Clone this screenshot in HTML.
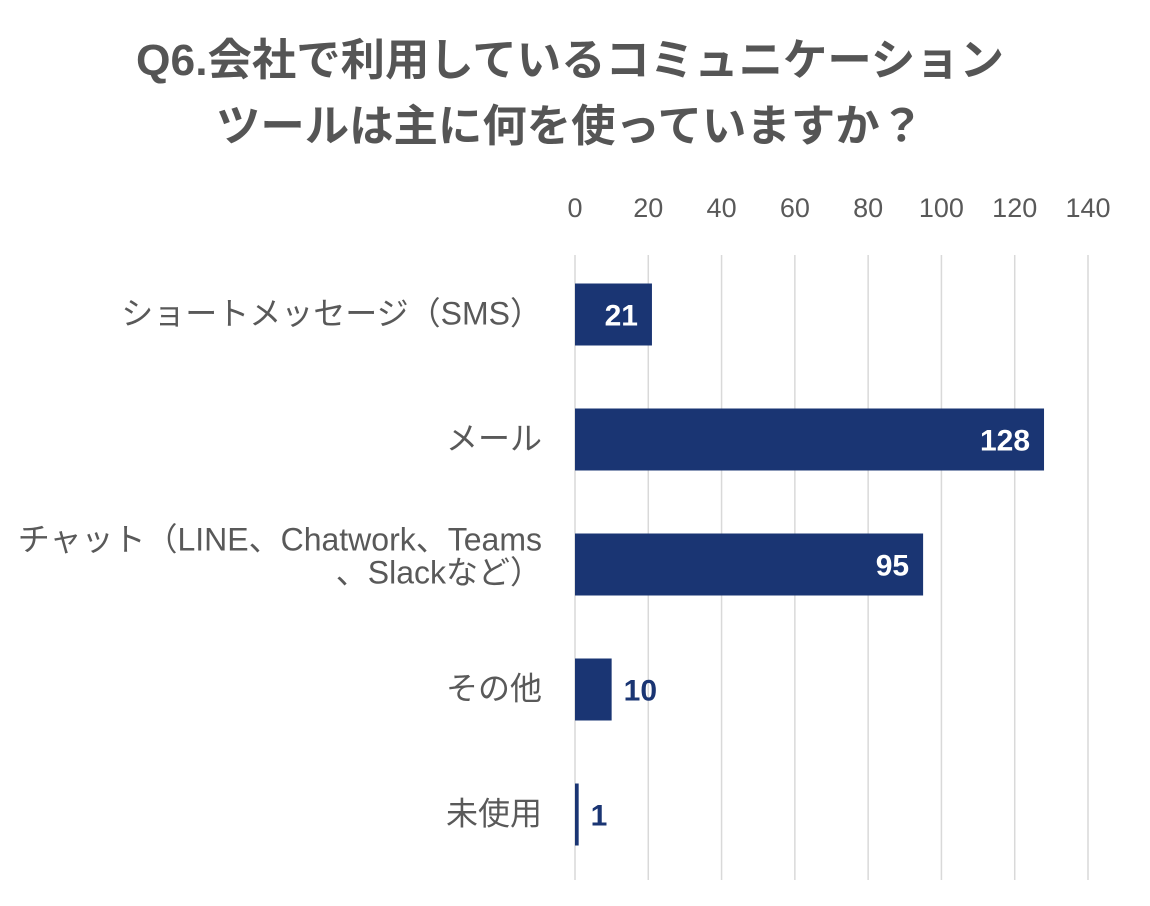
<!DOCTYPE html>
<html><head><meta charset="utf-8">
<style>
html,body{margin:0;padding:0;background:#fff;}
svg{display:block;font-family:"Liberation Sans","Noto Sans CJK JP",sans-serif;}
</style></head>
<body>
<svg id="chart" width="1150" height="906" viewBox="0 0 1150 906">
  <g font-weight="bold" font-size="44" fill="#555" text-anchor="middle">
    <text x="570" y="75" textLength="868" lengthAdjust="spacingAndGlyphs">Q6.会社で利用しているコミュニケーション</text>
    <text x="570" y="141" textLength="708" lengthAdjust="spacingAndGlyphs">ツールは主に何を使っていますか？</text>
  </g>
  <g id="grid"></g>
  <g id="ticks"></g>
  <g id="bars"></g>
  <g id="cats"></g>
</svg>
<script>
const categories = [["ショートメッセージ（SMS）"], ["メール"], ["チャット（LINE、Chatwork、Teams", "、Slackなど）"], ["その他"], ["未使用"]];
const values = [21, 128, 95, 10, 1];
const tickValues = [0, 20, 40, 60, 80, 100, 120, 140];

const NS = "http://www.w3.org/2000/svg";
const x0 = 575, x1 = 1088, vmax = 140;
const yTop = 255, yBot = 880, band = 125, barH = 62;
const xs = v => x0 + (v / vmax) * (x1 - x0);
const yc = i => yTop + band * i + band / 2 - 3;
function mk(tag, attrs, parent) {
  const e = document.createElementNS(NS, tag);
  for (const k in attrs) e.setAttribute(k, attrs[k]);
  parent.appendChild(e);
  return e;
}
const grid = document.getElementById('grid'), ticks = document.getElementById('ticks');
const bars = document.getElementById('bars'), cats = document.getElementById('cats');
tickValues.forEach(t => {
  const l = mk('line', {x1: xs(t), x2: xs(t), y1: yTop, y2: yBot, stroke: '#d9d9d9', 'stroke-width': 1.5}, grid);
  
  
  const tx = mk('text', {x: xs(t), y: 217, 'font-size': 27, fill: '#595959', 'text-anchor': 'middle'}, ticks);
  tx.textContent = t;
  
  
});
values.forEach((v, i) => {
  const y = yc(i);
  const r = mk('rect', {x: x0, y: y - barH / 2, width: Math.max(xs(v) - x0, 3), height: barH, fill: '#1a3573'}, bars);
  
  
  const inside = xs(v) - x0 > 60;
  const lbl = mk('text', {
    x: inside ? xs(v) - 14 : xs(v) + 12, y: y + 11, 'font-size': 30, 'font-weight': 'bold',
    fill: inside ? '#fff' : '#1a3573', 'text-anchor': inside ? 'end' : 'start'
  }, bars);
  lbl.textContent = v;
  
  
  const lines = categories[i];
  const start = y + 10 - (lines.length - 1) * 24;
  lines.forEach((s, j) => {
    const c = mk('text', {x: 542, y: start + j * 33, 'font-size': 32, fill: '#595959', 'text-anchor': 'end'}, cats);
    c.textContent = s;
    
    
  });
});
</script>
</body></html>
